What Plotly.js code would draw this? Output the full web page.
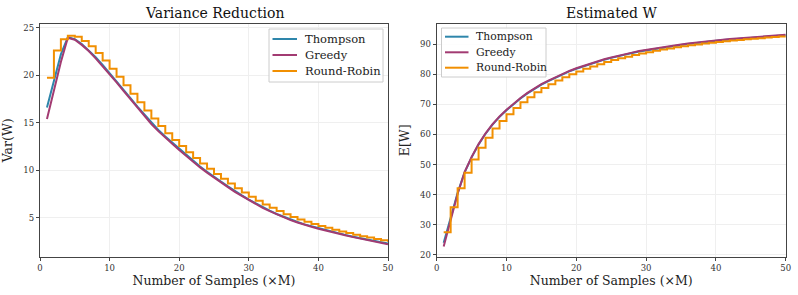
<!DOCTYPE html>
<html>
<head>
<meta charset="utf-8">
<script src="https://cdn.plot.ly/plotly-3.0.1.min.js"></script>
<style>html,body{margin:0;padding:0;background:#fff;}#chart{width:798px;height:295px;}</style>
</head>
<body>
<div id="chart"></div>
<script>
// ---- data ----
const samples = [1,2,3,4,5,6,7,8,9,10,11,12,13,14,15,16,17,18,19,20,21,22,23,24,25,26,27,28,29,30,31,32,33,34,35,36,37,38,39,40,41,42,43,44,45,46,47,48,49,50];

const varThompson = [16.6,19.4,22.2,24.0,23.8,23.3,22.65,21.9,21.1,20.25,19.4,18.5,17.6,16.7,15.85,15.0,14.25,13.55,12.9,12.25,11.6,11.0,10.4,9.85,9.3,8.8,8.3,7.8,7.35,6.9,6.5,6.1,5.75,5.4,5.1,4.8,4.55,4.3,4.1,3.9,3.7,3.5,3.33,3.17,3.0,2.85,2.7,2.55,2.42,2.28];
const varGreedy = [15.4,18.4,21.4,23.95,23.75,23.2,22.55,21.78,20.97,20.12,19.26,18.36,17.46,16.56,15.72,14.87,14.12,13.42,12.78,12.13,11.49,10.89,10.3,9.75,9.21,8.71,8.22,7.72,7.28,6.83,6.43,6.04,5.69,5.35,5.05,4.75,4.5,4.25,4.05,3.85,3.65,3.46,3.29,3.13,2.96,2.81,2.66,2.51,2.38,2.22];
const varRoundRobin = [19.75,22.6,23.8,24.15,24.05,23.6,23.05,22.35,21.55,20.7,19.85,18.95,18.05,17.15,16.3,15.45,14.65,13.9,13.2,12.55,11.9,11.3,10.7,10.15,9.6,9.1,8.6,8.1,7.65,7.2,6.8,6.4,6.05,5.7,5.38,5.08,4.82,4.57,4.35,4.14,3.94,3.74,3.56,3.39,3.22,3.06,2.91,2.76,2.62,2.48];

const ewGreedy = [22.8,31.2,40.3,47.5,52.5,56.8,60.4,63.4,66.0,68.2,70.3,72.1,73.8,75.3,76.7,77.9,79.0,80.1,81.1,82.0,82.8,83.6,84.3,85.0,85.6,86.2,86.7,87.2,87.7,88.1,88.5,88.9,89.25,89.6,89.9,90.2,90.5,90.75,91.0,91.25,91.5,91.7,91.9,92.1,92.3,92.5,92.65,92.8,92.95,93.1];
const ewThompson = [24.0,32.4,40.6,47.4,52.4,56.65,60.25,63.25,65.85,68.05,70.15,71.95,73.65,75.15,76.55,77.75,78.85,79.95,80.95,81.85,82.65,83.45,84.15,84.85,85.45,86.05,86.55,87.05,87.55,87.95,88.35,88.75,89.1,89.45,89.75,90.05,90.35,90.6,90.85,91.1,91.35,91.55,91.75,91.95,92.15,92.35,92.5,92.65,92.8,92.95];
const ewRoundRobin = [27.5,35.8,42.1,47.3,51.7,55.6,58.9,62.0,64.5,66.7,68.8,70.7,72.4,74.0,75.4,76.7,77.9,79.0,80.0,80.9,81.8,82.6,83.35,84.05,84.7,85.3,85.85,86.4,86.9,87.35,87.8,88.2,88.6,88.95,89.3,89.6,89.9,90.2,90.45,90.7,90.95,91.2,91.4,91.6,91.8,92.0,92.2,92.4,92.55,92.75];

const seriesNames = ["Thompson","Greedy","Round-Robin"];
const xTicks = [0,10,20,30,40,50];
const varTicks = [5,10,15,20,25];
const ewTicks = [20,30,40,50,60,70,80,90];

// ---- styling ----
const colors = ["#2E86AB","#A23B72","#F18F01"];
const FONT = "DejaVu Serif, serif";
const W = 798, H = 295;
const px = v => v / W, py = v => 1 - v / H;

function mk(x, y, name, ci, xa, ya, shape) {
  return {x: x, y: y, name: name, type: "scatter", mode: "lines",
    xaxis: xa, yaxis: ya, showlegend: false,
    line: {color: colors[ci], width: 2, shape: shape || "linear"}};
}

const traces = [
  mk(samples, varThompson, seriesNames[0], 0, "x", "y"),
  mk(samples, varGreedy, seriesNames[1], 1, "x", "y"),
  mk(samples, varRoundRobin, seriesNames[2], 2, "x", "y", "hv"),
  mk(samples, ewThompson, seriesNames[0], 0, "x2", "y2"),
  mk(samples, ewGreedy, seriesNames[1], 1, "x2", "y2"),
  mk(samples, ewRoundRobin, seriesNames[2], 2, "x2", "y2", "hv")
];

const axisBase = {
  showline: true, mirror: true, linecolor: "#444", linewidth: 1.2,
  ticks: "outside", ticklen: 3, tickwidth: 1, tickcolor: "#444",
  showgrid: true, gridcolor: "#efefef", gridwidth: 1, zeroline: false,
  tickfont: {family: FONT, size: 8.5, color: "#333"}
};
function ax(extra) { return Object.assign(JSON.parse(JSON.stringify(axisBase)), extra); }
const titleFont = {family: FONT, size: 12.5, color: "#222"};

// custom legends (matplotlib-like compact boxes)
const shapes = [], annotations = [];
function legendBox(x0, y0, x1, y1, lineX0, lineX1, textX, rowsY, fs) {
  shapes.push({type: "rect", xref: "paper", yref: "paper", layer: "above",
    x0: px(x0), x1: px(x1), y0: py(y0), y1: py(y1),
    fillcolor: "rgba(255,255,255,0.85)", line: {color: "#cccccc", width: 1}});
  seriesNames.forEach((n, i) => {
    shapes.push({type: "line", xref: "paper", yref: "paper", layer: "above",
      x0: px(lineX0), x1: px(lineX1), y0: py(rowsY[i]), y1: py(rowsY[i]),
      line: {color: colors[i], width: 2}});
    annotations.push({text: n, x: px(textX), y: py(rowsY[i]), xref: "paper", yref: "paper",
      xanchor: "left", yanchor: "middle", showarrow: false,
      font: {family: FONT, size: fs, color: "#222"}});
  });
}
legendBox(269, 29, 383, 82, 272.5, 297, 302.5, [39, 55, 71], 11.5);
legendBox(441.5, 28, 546, 77, 445, 468.5, 473.5, [36.7, 52.3, 67.7], 10.8);

annotations.push(
  {text: "Variance Reduction", x: (px(40) + px(388)) / 2, y: py(13), xref: "paper", yref: "paper",
    xanchor: "center", yanchor: "middle", showarrow: false, font: {family: FONT, size: 14, color: "#111"}},
  {text: "Estimated W", x: (px(436.7) + px(785.7)) / 2, y: py(13), xref: "paper", yref: "paper",
    xanchor: "center", yanchor: "middle", showarrow: false, font: {family: FONT, size: 14, color: "#111"}}
);

const yDom = [py(256.7), py(24)];
const layout = {
  width: W, height: H,
  margin: {l: 0, r: 0, t: 0, b: 0},
  paper_bgcolor: "#fff", plot_bgcolor: "#fff",
  font: {family: FONT, color: "#222"},
  showlegend: false,
  xaxis: ax({domain: [px(40), px(388)], range: [0, 50], tickvals: xTicks, anchor: "y",
    title: {text: "Number of Samples (×M)", standoff: 4, font: titleFont}}),
  yaxis: ax({domain: yDom, range: [0.9, 25.4], tickvals: varTicks, anchor: "x",
    title: {text: "Var(W)", standoff: 7, font: titleFont}}),
  xaxis2: ax({domain: [px(436.7), px(785.7)], range: [0, 50], tickvals: xTicks, anchor: "y2",
    title: {text: "Number of Samples (×M)", standoff: 4, font: titleFont}}),
  yaxis2: ax({domain: yDom, range: [19.4, 96.7], tickvals: ewTicks, anchor: "x2",
    title: {text: "E[W]", standoff: 7, font: titleFont}}),
  shapes: shapes,
  annotations: annotations
};

Plotly.newPlot("chart", traces, layout, {staticPlot: true, displayModeBar: false});
</script>
</body>
</html>
